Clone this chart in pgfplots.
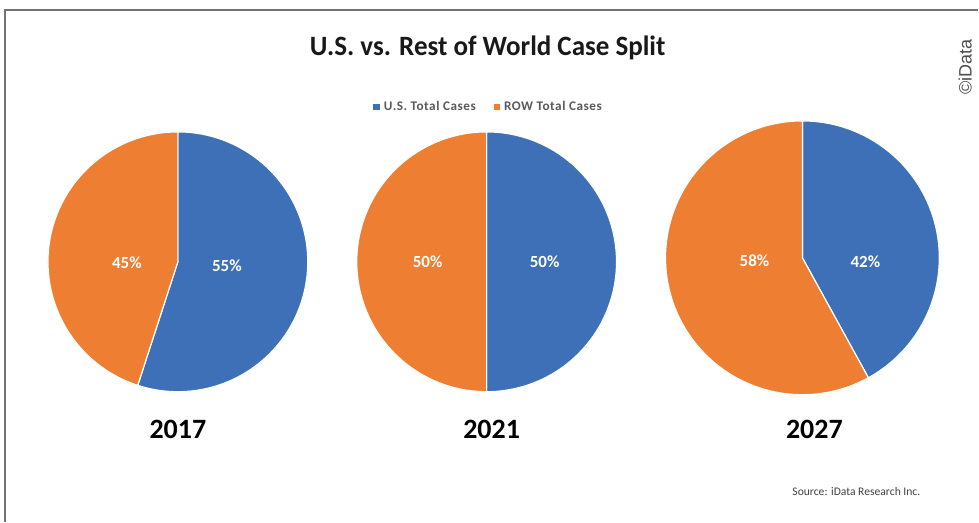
\documentclass[border=0pt]{standalone}
\usepackage{fontspec}
\setmainfont{Carlito}
\newfontfamily\arialf{Liberation Sans}
\usepackage{pgfplots}
\pgfplotsset{compat=1.18}
\definecolor{usblue}{RGB}{62,112,184}
\definecolor{roworange}{RGB}{237,126,50}
\begin{document}
\begin{tikzpicture}
\begin{axis}[
  width=489.5pt, height=261pt, scale only axis,
  xmin=0, xmax=979, ymin=0, ymax=522,
  hide axis, clip=false,
  legend style={at={(axis cs:490,415)}, anchor=center, draw=none, fill=none,
    legend columns=2, font=\fontsize{6.6}{7.5}\selectfont\bfseries\addfontfeature{LetterSpace=4}, text=black!65,
    /tikz/every even column/.append style={column sep=7pt},
    legend cell align=left},
  legend image code/.code={\fill[#1] (0pt,-1.6pt) rectangle (3.2pt,1.6pt);},
]
\path (0,0) rectangle (979,522);
% frame
\draw[black!55, line width=0.75pt] (5,0) -- (5,512) -- (979,512);

% 2017: U.S. 55, ROW 45
\addplot[fill=usblue, draw=white, line width=0.6pt, domain=90:{90-3.6*55}, samples=120, variable=\t, forget plot]
  ({178+130*cos(\t)},{260+130*sin(\t)}) -- (178,260) -- cycle;
\addplot[fill=roworange, draw=white, line width=0.6pt, domain={90-3.6*55}:-270, samples=120, variable=\t, forget plot]
  ({178+130*cos(\t)},{260+130*sin(\t)}) -- (178,260) -- cycle;
% 2021: U.S. 50, ROW 50
\addplot[fill=usblue, draw=white, line width=0.6pt, domain=90:{90-3.6*50}, samples=120, variable=\t, forget plot]
  ({487+130*cos(\t)},{260+130*sin(\t)}) -- (487,260) -- cycle;
\addplot[fill=roworange, draw=white, line width=0.6pt, domain={90-3.6*50}:-270, samples=120, variable=\t, forget plot]
  ({487+130*cos(\t)},{260+130*sin(\t)}) -- (487,260) -- cycle;
% 2027: U.S. 42, ROW 58
\addplot[fill=usblue, draw=white, line width=0.6pt, domain=90:{90-3.6*42}, samples=120, variable=\t, forget plot]
  ({803+137*cos(\t)},{264+137*sin(\t)}) -- (803,264) -- cycle;
\addplot[fill=roworange, draw=white, line width=0.6pt, domain={90-3.6*42}:-270, samples=120, variable=\t, forget plot]
  ({803+137*cos(\t)},{264+137*sin(\t)}) -- (803,264) -- cycle;

\addlegendimage{fill=usblue, draw=none}
\addlegendentry{U.S. Total Cases}
\addlegendimage{fill=roworange, draw=none}
\addlegendentry{ROW Total Cases}

% percentage labels
\begin{scope}[every node/.style={font=\fontsize{8.5}{10}\selectfont\bfseries, text=white}]
\node at (127,259) {45\%};
\node at (227,256) {55\%};
\node at (428,260) {50\%};
\node at (545,260) {50\%};
\node at (755,261) {58\%};
\node at (866,260) {42\%};
\end{scope}

% years
\begin{scope}[every node/.style={font=\fontsize{14}{16}\selectfont\bfseries, text=black}]
\node at (178,92) {2017};
\node at (492,92) {2021};
\node at (815,92) {2027};
\end{scope}

% title
\node[font=\fontsize{14}{16}\selectfont\bfseries, text=black!90, xscale=0.965] at (488,474) {U.S. vs. Rest of World Case Split};
% source
\node[font=\fontsize{5.8}{7}\selectfont, text=black!75] at (857,30) {Source: iData Research Inc.};
% copyright
\node[rotate=90, font=\arialf\fontsize{9}{10}\selectfont, text=black!70] at (966,455) {©iData};
\end{axis}
\end{tikzpicture}
\end{document}
